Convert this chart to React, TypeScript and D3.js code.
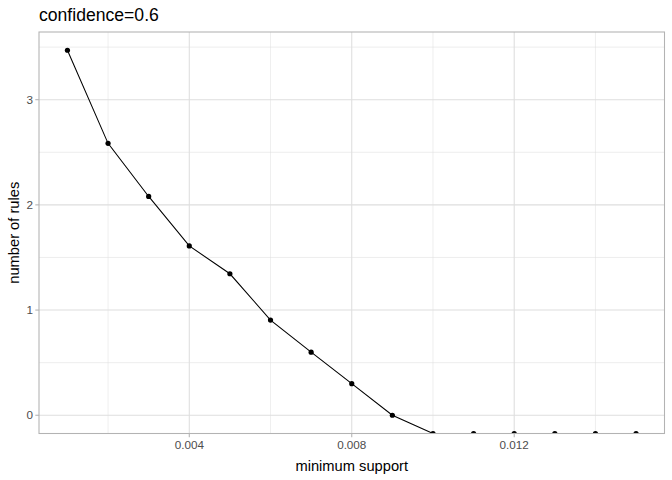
import React from "react";
import * as d3 from "d3";

const supports = [0.001, 0.002, 0.003, 0.004, 0.005, 0.006, 0.007, 0.008, 0.009, 0.010, 0.011, 0.012, 0.013, 0.014, 0.015];
// log10(number of rules); null = -Inf (zero rules), drawn at panel bottom
const logRules: (number | null)[] = [3.47, 2.585, 2.08, 1.61, 1.345, 0.905, 0.60, 0.30, 0, null, null, null, null, null, null];
const xTicks = [0.004, 0.008, 0.012];
const xMinor = [0.002, 0.006, 0.01, 0.014];
const yTicks = [0, 1, 2, 3];
const yMinor = [0.5, 1.5, 2.5, 3.5];

export default function App() {
  const W = 672, H = 480;
  const left = 39, right = 664.5, top = 32, bottom = 433.5;
  const xr = [0.001, 0.015];
  const xe = (xr[1] - xr[0]) * 0.05;
  const x = d3.scaleLinear().domain([xr[0] - xe, xr[1] + xe]).range([left, right]);
  const finite = logRules.filter((v) => v !== null) as number[];
  const yr = [d3.min(finite)!, d3.max(finite)!];
  const ye = (yr[1] - yr[0]) * 0.05;
  const y = d3.scaleLinear().domain([yr[0] - ye, yr[1] + ye]).range([bottom, top]);
  const pts = supports.map((s, i) => [x(s), logRules[i] === null ? bottom : y(logRules[i] as number)] as [number, number]);
  const line = d3.line()(pts) || "";
  const grid = "#DEDEDE";
  const font = "Liberation Sans, Arial, sans-serif";
  return (
    <svg width={W} height={H} style={{ position: "absolute", left: 0, top: 0, fontFamily: font }}>
      <rect width={W} height={H} fill="#fff" />
      <text x={39} y={21} fontSize={17.6} fill="#000">confidence=0.6</text>
      <defs>
        <clipPath id="pc"><rect x={left} y={top} width={right - left} height={bottom - top} /></clipPath>
      </defs>
      {xMinor.map((t) => <line key={"xm" + t} x1={x(t)} x2={x(t)} y1={top} y2={bottom} stroke={grid} strokeWidth={0.53} />)}
      {yMinor.map((t) => <line key={"ym" + t} x1={left} x2={right} y1={y(t)} y2={y(t)} stroke={grid} strokeWidth={0.53} />)}
      {xTicks.map((t) => <line key={"xM" + t} x1={x(t)} x2={x(t)} y1={top} y2={bottom} stroke={grid} strokeWidth={1.07} />)}
      {yTicks.map((t) => <line key={"yM" + t} x1={left} x2={right} y1={y(t)} y2={y(t)} stroke={grid} strokeWidth={1.07} />)}
      <g clipPath="url(#pc)">
        <path d={line} fill="none" stroke="#000" strokeWidth={1.07} />
        {pts.map((p, i) => <circle key={i} cx={p[0]} cy={p[1]} r={2.6} fill="#000" />)}
      </g>
      <rect x={left} y={top} width={right - left} height={bottom - top} fill="none" stroke="#B3B3B3" strokeWidth={1.07} />
      {xTicks.map((t) => (
        <g key={"xt" + t}>
          <line x1={x(t)} x2={x(t)} y1={bottom} y2={bottom + 3.7} stroke="#B3B3B3" strokeWidth={1.07} />
          <text x={x(t)} y={bottom + 15.5} fontSize={11.7} fill="#4D4D4D" textAnchor="middle">{t.toFixed(3)}</text>
        </g>
      ))}
      {yTicks.map((t) => (
        <g key={"yt" + t}>
          <line x1={left - 3.7} x2={left} y1={y(t)} y2={y(t)} stroke="#B3B3B3" strokeWidth={1.07} />
          <text x={left - 6} y={y(t) + 4.2} fontSize={11.7} fill="#4D4D4D" textAnchor="end">{t}</text>
        </g>
      ))}
      <text x={(left + right) / 2} y={471} fontSize={14.7} fill="#000" textAnchor="middle">minimum support</text>
      <text transform={`translate(18.5,${(top + bottom) / 2}) rotate(-90)`} fontSize={14.7} fill="#000" textAnchor="middle">number of rules</text>
    </svg>
  );
}
